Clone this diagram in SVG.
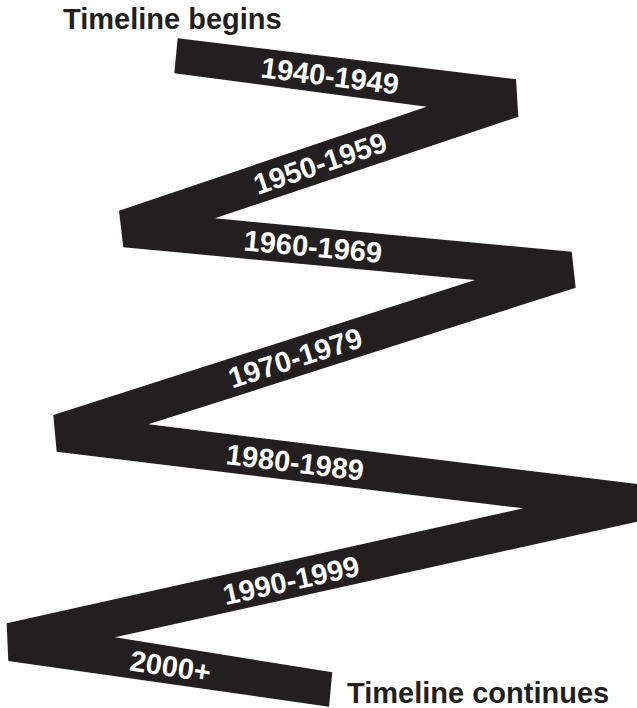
<svg xmlns="http://www.w3.org/2000/svg" width="637" height="708" viewBox="0 0 637 708">
<style>
.band{fill:#231f20}
.title{font-family:"Liberation Sans",Arial,sans-serif;font-weight:bold;font-size:29px;fill:#231f20}
.lbl{font-family:"Liberation Sans",Arial,sans-serif;font-weight:bold;font-size:29px;fill:#ffffff;text-anchor:middle}
</style>
<rect width="637" height="708" fill="#ffffff"/>
<g id="ribbon">
<path class="band" d="M177.7,38.3 L516,79.3 L518.3,116.7 L215,218.3 L571.7,251.7 L575.7,287.7 L148.3,424.3 L655,486.1 L658,517 L115,637.3 L332.3,672.3 L329,706.7 L8.3,661 L6.7,623.3 L523.3,508.3 L56.7,451.7 L53.3,415 L475,280 L123.3,247.3 L119,210.7 L426.7,106.7 L174.3,73.3 Z"/>
</g>
<g id="labels">
<g id="d1940" transform="translate(330,75.5) rotate(7.2)"><text class="lbl" x="0" y="10.5">1940-1949</text></g>
<g id="d1950" transform="translate(320,163) rotate(-18.6)"><text class="lbl" x="0" y="10.5">1950-1959</text></g>
<g id="d1960" transform="translate(313,246.2) rotate(5.3)"><text class="lbl" x="0" y="10.5">1960-1969</text></g>
<g id="d1970" transform="translate(295,357.5) rotate(-17.7)"><text class="lbl" x="0" y="10.5">1970-1979</text></g>
<g id="d1980" transform="translate(295,462) rotate(6.9)"><text class="lbl" x="0" y="10.5">1980-1989</text></g>
<g id="d1990" transform="translate(291,580) rotate(-12.5)"><text class="lbl" x="0" y="10.5">1990-1999</text></g>
<g id="d2000" transform="translate(170.5,666) rotate(8.6)"><text class="lbl" x="0" y="10.5">2000+</text></g>
</g>
<g id="start"><text class="title" x="63" y="29">Timeline begins</text></g>
<g id="end"><text class="title" x="347" y="703">Timeline continues</text></g>
</svg>
